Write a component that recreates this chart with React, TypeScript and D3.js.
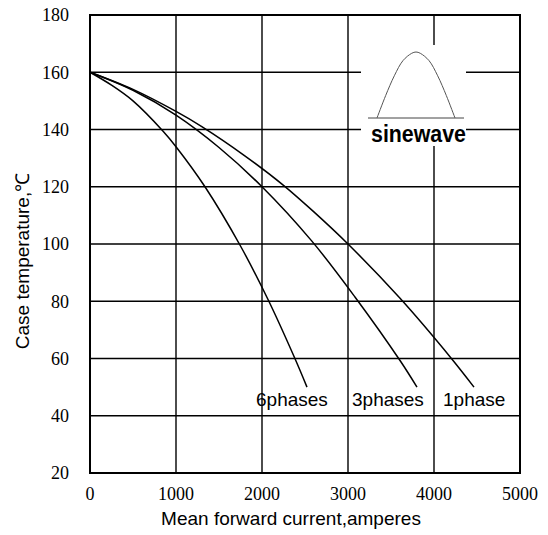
import React from "react";
import * as d3 from "d3";

const xTicks = [0, 1000, 2000, 3000, 4000, 5000];
const yTicks = [20, 40, 60, 80, 100, 120, 140, 160, 180];

const phase1X = [0, 500, 1000, 1300, 1800, 2250, 2600, 3000, 3600, 4200, 4465];
const phase1Y = [160, 154, 146.3, 141, 130.8, 120.5, 111.3, 100, 81.2, 60.1, 50];
const phase3X = [0, 500, 1000, 1500, 2000, 2580, 3081, 3605, 3802];
const phase3Y = [160, 153.7, 145, 133.7, 120, 101, 81.5, 59.3, 50];
const phase6X = [0, 250, 500, 850, 1000, 1337, 1750, 2070, 2384, 2523];
const phase6Y = [160, 155.5, 150, 139.4, 134, 120, 99.3, 80.6, 59.9, 50];

const seriesLabels = ["6phases", "3phases", "1phase"];

// inset sine-wave icon, phase in degrees and relative amplitude
const sinePhase = [0, 20, 40, 60, 80, 90, 100, 120, 140, 160, 180];
const sineAmp = [0, 0.34, 0.64, 0.87, 0.98, 1, 0.98, 0.87, 0.64, 0.34, 0];

export default function App() {
  const W = 548, H = 535;
  const x = d3.scaleLinear().domain([0, 5000]).range([90, 520]);
  const y = d3.scaleLinear().domain([20, 180]).range([473, 15]);

  const line = d3
    .line<[number, number]>()
    .x((d) => x(d[0]))
    .y((d) => y(d[1]))
    .curve(d3.curveCatmullRom.alpha(0.5));

  const zip = (a: number[], b: number[]) => a.map((v, i) => [v, b[i]] as [number, number]);
  const series = [zip(phase6X, phase6Y), zip(phase3X, phase3Y), zip(phase1X, phase1Y)];

  const labelX = [256, 352, 443];

  // inset scales
  const sx = d3.scaleLinear().domain([0, 180]).range([377, 455]);
  const sy = d3.scaleLinear().domain([0, 1]).range([118, 52]);
  const sineLine = d3
    .line<number>()
    .x((d, i) => sx(sinePhase[i]))
    .y((d) => sy(d))
    .curve(d3.curveCatmullRom);

  const serif = "'Liberation Serif', 'Times New Roman', serif";
  const sans = "'Liberation Sans', Arial, sans-serif";

  return (
    <svg
      width={W}
      height={H}
      style={{ position: "absolute", left: 0, top: 0, background: "#fff" }}
    >
      <rect x={0} y={0} width={W} height={H} fill="#fff" />
      {/* grid */}
      {xTicks.slice(1, -1).map((t) => (
        <line key={"gx" + t} x1={x(t)} x2={x(t)} y1={y(180)} y2={y(20)} stroke="#000" strokeWidth={1.4} />
      ))}
      {yTicks.slice(1, -1).map((t) => (
        <line key={"gy" + t} x1={x(0)} x2={x(5000)} y1={y(t)} y2={y(t)} stroke="#000" strokeWidth={1.4} />
      ))}
      {/* white box behind inset */}
      <rect x={361} y={45} width={105} height={101} fill="#fff" />
      {/* frame */}
      <rect x={x(0)} y={y(180)} width={x(5000) - x(0)} height={y(20) - y(180)} fill="none" stroke="#000" strokeWidth={2} />

      {/* curves */}
      {series.map((s, i) => (
        <path key={"s" + i} d={line(s) || ""} fill="none" stroke="#000" strokeWidth={1.5} />
      ))}

      {/* labels */}
      {seriesLabels.map((l, i) => (
        <text key={l} x={labelX[i]} y={406} fontFamily={sans} fontSize={19} fill="#000">
          {l}
        </text>
      ))}

      {/* inset */}
      <line x1={368} x2={464} y1={118} y2={118} stroke="#444" strokeWidth={1} />
      <path d={sineLine(sineAmp) || ""} fill="none" stroke="#555" strokeWidth={1} />
      <text
        x={371}
        y={142}
        fontFamily={sans}
        fontWeight="bold"
        fontSize={23}
        textLength={95}
        lengthAdjust="spacingAndGlyphs"
        fill="#000"
      >
        sinewave
      </text>

      {/* y tick labels */}
      {yTicks.map((t) => (
        <text key={"yl" + t} x={69} y={y(t)} dy="0.35em" textAnchor="end" fontFamily={serif} fontSize={18} fill="#000">
          {t}
        </text>
      ))}
      {/* x tick labels */}
      {xTicks.map((t) => (
        <text key={"xl" + t} x={x(t)} y={500} textAnchor="middle" fontFamily={serif} fontSize={18} fill="#000">
          {t}
        </text>
      ))}

      {/* axis titles */}
      <text x={291} y={525} textAnchor="middle" fontFamily={sans} fontSize={19} fill="#000">
        Mean forward  current,amperes
      </text>
      <text
        transform="translate(29,261) rotate(-90)"
        textAnchor="middle"
        fontFamily={sans}
        fontSize={19}
        fill="#000"
      >
        Case temperature,℃
      </text>
    </svg>
  );
}
